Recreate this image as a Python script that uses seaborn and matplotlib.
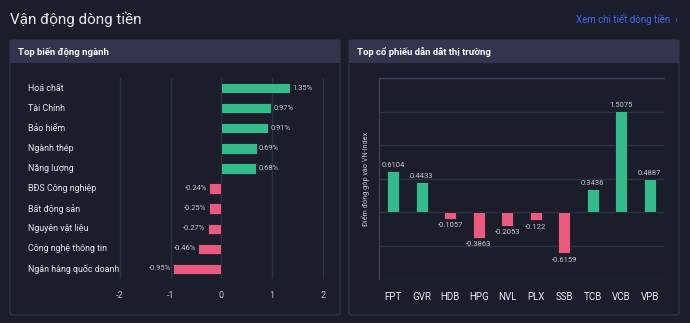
import matplotlib
matplotlib.use("Agg")
import matplotlib.pyplot as plt
import seaborn as sns
import pandas as pd
from matplotlib.patches import FancyBboxPatch, Rectangle

# ---- data ----
sectors = ["Hoá chất", "Tài Chính", "Bảo hiểm", "Ngành thép", "Năng lượng",
           "BĐS Công nghiệp", "Bất động sản", "Nguyên vật liệu",
           "Công nghệ thông tin", "Ngân hàng quốc doanh"]
sector_changes = [1.35, 0.97, 0.91, 0.69, 0.68, -0.24, -0.25, -0.27, -0.46, -0.95]

tickers = ["FPT", "GVR", "HDB", "HPG", "NVL", "PLX", "SSB", "TCB", "VCB", "VPB"]
ticker_points = [0.6104, 0.4433, -0.1057, -0.3863, -0.2053, -0.122, -0.6159, 0.3436, 1.5075, 0.4887]
ticker_labels = ["0.6104", "0.4433", "-0.1057", "-0.3863", "-0.2053", "-0.122",
                 "-0.6159", "0.3436", "1.5075", "0.4887"]

BG = "#1b1d2b"
HEADER = "#33354f"
BORDER = "#2f3247"
GRID = "#2f3246"
GREEN = "#34bb8a"
RED = "#ea5a7e"
TXT = "#e6e8ef"
SUB = "#c3c6d1"

sns.set_theme(style="dark")
plt.rcParams["font.family"] = ["Roboto", "DejaVu Sans"]

W, H = 690, 323
fig = plt.figure(figsize=(W / 100, H / 100), dpi=100, facecolor=BG)

def fx(px):
    return px / W

def fy(py):
    return 1 - py / H

# panels
for x0, x1 in [(10, 340), (349, 679)]:
    fig.patches.append(FancyBboxPatch((fx(x0), fy(315)), fx(x1 - x0), (315 - 40) / H,
                                      boxstyle="round,pad=0,rounding_size=0.006",
                                      transform=fig.transFigure, facecolor=BG,
                                      edgecolor=BORDER, linewidth=1.0, zorder=-3))
    fig.patches.append(Rectangle((fx(x0), fy(63)), fx(x1 - x0), (63 - 40) / H,
                                 transform=fig.transFigure, facecolor=HEADER,
                                 edgecolor="none", zorder=-2))

fig.text(fx(10), fy(19), "Vận động dòng tiền", color=TXT, fontsize=11,
         va="center", ha="left")
fig.text(fx(678), fy(19), "Xem chi tiết dòng tiền  ›", color="#3c6cf0", fontsize=7,
         va="center", ha="right")
fig.text(fx(18), fy(52), "Top biến động ngành", color="white", fontsize=6.8,
         fontweight="bold", va="center", ha="left")
fig.text(fx(357), fy(52), "Top cổ phiếu dẫn dắt thị trường", color="white", fontsize=6.8,
         fontweight="bold", va="center", ha="left")

# ---- left chart ----
df1 = pd.DataFrame({"sector": sectors, "change": sector_changes})
df1["sign"] = ["pos" if v >= 0 else "neg" for v in sector_changes]
ax1 = fig.add_axes([fx(119), fy(279), fx(205), (279 - 78) / H])
ax1.set_facecolor("none")
ax1.set_zorder(1)
sns.barplot(data=df1, y="sector", x="change", hue="sign", orient="h",
            palette={"pos": GREEN, "neg": RED}, dodge=False, width=0.52,
            saturation=1, legend=False, ax=ax1, edgecolor="#1b1d2b",
            linewidth=0.6, zorder=3)
ax1.set_xlim(-2.02, 2.02)
ax1.set_xticks([-2, -1, 0, 1, 2])
ax1.set_xticklabels(["-2", "-1", "0", "1", "2"])
ax1.tick_params(axis="x", colors=SUB, labelsize=6.5, length=0, pad=9)
ax1.tick_params(axis="y", length=0)
ax1.set_yticklabels([])
ax1.set_xlabel("")
ax1.set_ylabel("")
ax1.grid(axis="x", color=GRID, linewidth=1.0, zorder=0)
ax1.grid(axis="y", visible=False)
for s in ax1.spines.values():
    s.set_visible(False)
for i, (name, v) in enumerate(zip(sectors, sector_changes)):
    ax1.text(-3.82, i, name, color=TXT, fontsize=6.4, va="center", ha="left",
             clip_on=False)
    if v >= 0:
        ax1.text(v + 0.05, i, f"{v:.2f}%", color=SUB, fontsize=5.4, va="center", ha="left")
    else:
        ax1.text(v - 0.05, i, f"{v:.2f}%", color=SUB, fontsize=5.4, va="center", ha="right")

# ---- right chart ----
df2 = pd.DataFrame({"ticker": tickers, "points": ticker_points})
df2["sign"] = ["pos" if v >= 0 else "neg" for v in ticker_points]
ax2 = fig.add_axes([fx(379), fy(279), fx(285), (279 - 78) / H])
ax2.set_facecolor("none")
ax2.set_zorder(1)
sns.barplot(data=df2, x="ticker", y="points", hue="sign",
            palette={"pos": GREEN, "neg": RED}, dodge=False, width=0.42,
            saturation=1, legend=False, ax=ax2, edgecolor="#1b1d2b",
            linewidth=0.6, zorder=3)
ax2.set_ylim(-1.0, 2.0)
ax2.set_yticks([-1.0, -0.5, 0, 0.5, 1.0, 1.5, 2.0])
ax2.set_yticklabels([])
ax2.tick_params(axis="y", length=0)
ax2.tick_params(axis="x", colors=TXT, labelsize=7, length=0, pad=9)
ax2.set_xlabel("")
ax2.set_ylabel("Điểm đóng góp vào VN-Index", color=SUB, fontsize=5.2, labelpad=3)
ax2.grid(axis="y", color=GRID, linewidth=1.0, zorder=0)
ax2.grid(axis="x", visible=False)
for k, s in ax2.spines.items():
    s.set_visible(k in ("left", "top"))
    s.set_color("#3b3e56")
    s.set_linewidth(1.0)
for i, (v, lab) in enumerate(zip(ticker_points, ticker_labels)):
    if v >= 0:
        ax2.text(i, v + 0.05, lab, color=SUB, fontsize=5.5, va="bottom", ha="center")
    else:
        ax2.text(i, v - 0.05, lab, color=SUB, fontsize=5.5, va="top", ha="center")

fig.savefig("out.png", dpi=100, facecolor=BG)
